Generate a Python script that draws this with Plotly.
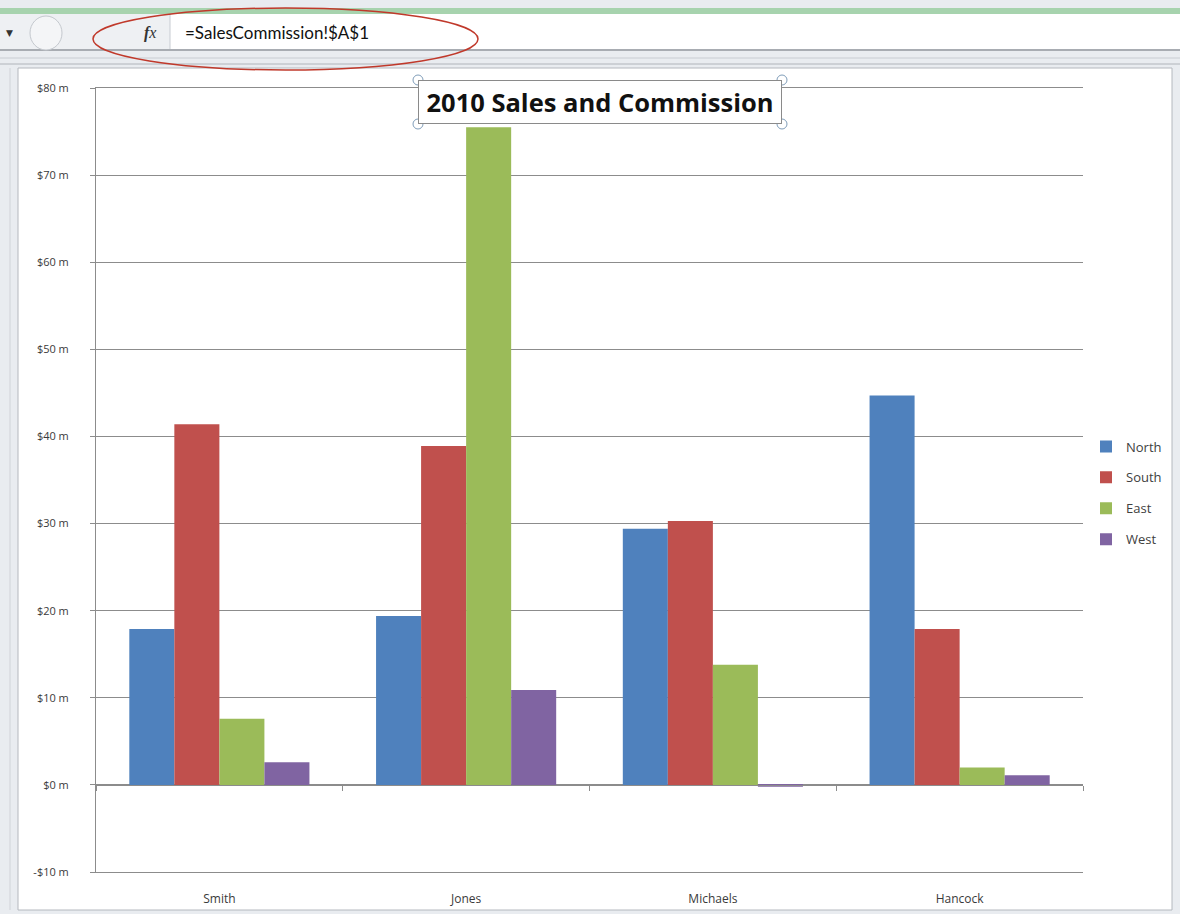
import plotly.graph_objects as go

# ---------------- data ----------------
salespeople = ["Smith", "Jones", "Michaels", "Hancock"]
north = [17.9, 19.4, 29.4, 44.7]
south = [41.4, 38.9, 30.3, 17.9]
east = [7.6, 75.5, 13.8, 2.0]
west = [2.6, 10.9, -0.2, 1.1]
regions = ["North", "South", "East", "West"]
region_colors = ["#4F81BD", "#C0504D", "#9BBB59", "#8064A2"]
y_tickvals = [-10, 0, 10, 20, 30, 40, 50, 60, 70, 80]
y_ticktext = ["-$10 m", "$0 m", "$10 m", "$20 m", "$30 m", "$40 m",
              "$50 m", "$60 m", "$70 m", "$80 m"]
title_text = "2010 Sales and Commission"
formula_text = "=SalesCommission!$A$1"
y_min, y_max = -10, 80

W, H = 1180, 914
L, R, T, B = 96, 97, 88, 42
PW, PH = W - L - R, H - T - B


def px(x):
    return (x - L) / PW


def py(y):
    return (H - B - y) / PH


fig = go.Figure()
series = [north, south, east, west]
for i, (name, vals) in enumerate(zip(regions, series)):
    fig.add_trace(go.Bar(
        x=salespeople, y=vals, name=name,
        marker=dict(color=region_colors[i], line=dict(width=0)),
        legendgroup=name,
    ))

# helper trace for the category-boundary tick axis at y = 0
fig.add_trace(go.Scatter(x=salespeople, y=[0] * len(salespeople), xaxis="x2",
                         mode="none", showlegend=False, hoverinfo="skip"))

grid = "#8C8C8C"
ytickfont = dict(family="Open Sans, DejaVu Sans", size=11, color="#3A3A3A")
xtickfont = dict(family="Open Sans, DejaVu Sans", size=12, color="#3A3A3A")

shapes = []
# ---- window chrome ----
shapes.append(dict(type="rect", xref="paper", yref="paper", x0=px(0), x1=px(W),
                   y0=py(H), y1=py(0), fillcolor="#E9ECF0", line=dict(width=0), layer="below"))
shapes.append(dict(type="rect", xref="paper", yref="paper", x0=px(0), x1=px(W),
                   y0=py(14), y1=py(8), fillcolor="#A7D3AE", line=dict(width=0), layer="below"))
shapes.append(dict(type="rect", xref="paper", yref="paper", x0=px(0), x1=px(W),
                   y0=py(49), y1=py(14), fillcolor="#FFFFFF", line=dict(width=0), layer="below"))
shapes.append(dict(type="rect", xref="paper", yref="paper", x0=px(0), x1=px(170),
                   y0=py(49), y1=py(14), fillcolor="#EEF0F3", line=dict(width=0), layer="below"))
shapes.append(dict(type="line", xref="paper", yref="paper", x0=px(170), x1=px(170),
                   y0=py(49), y1=py(14), line=dict(color="#C8CCD2", width=1)))
shapes.append(dict(type="line", xref="paper", yref="paper", x0=px(0), x1=px(W),
                   y0=py(50), y1=py(50), line=dict(color="#A8ACB2", width=2)))
shapes.append(dict(type="line", xref="paper", yref="paper", x0=px(0), x1=px(W),
                   y0=py(58), y1=py(58), line=dict(color="#C8CCD2", width=1)))
shapes.append(dict(type="line", xref="paper", yref="paper", x0=px(0), x1=px(W),
                   y0=py(64), y1=py(64), line=dict(color="#B0B4BA", width=1)))
shapes.append(dict(type="circle", xref="paper", yref="paper", x0=px(30), x1=px(62),
                   y0=py(50), y1=py(16), fillcolor="#F4F5F7", line=dict(color="#C4C8CE", width=1)))
# chart frame
shapes.append(dict(type="rect", xref="paper", yref="paper", x0=px(18), x1=px(1172),
                   y0=py(910), y1=py(68), fillcolor="#FFFFFF",
                   line=dict(color="#B4B8BE", width=1), layer="below"))
shapes.append(dict(type="line", xref="paper", yref="paper", x0=px(10), x1=px(10),
                   y0=py(910), y1=py(68), line=dict(color="#D0D3D8", width=1)))
# red ellipse around formula
shapes.append(dict(type="circle", xref="paper", yref="paper", x0=px(93), x1=px(478),
                   y0=py(70), y1=py(8), line=dict(color="#C0392B", width=1.5)))
# title handles
for hx, hy in [(418, 80), (782, 80), (418, 124), (782, 124)]:
    shapes.append(dict(type="circle", xref="paper", yref="paper",
                       x0=px(hx - 5), x1=px(hx + 5), y0=py(hy + 5), y1=py(hy - 5),
                       fillcolor="rgba(255,255,255,0.6)", line=dict(color="#7F9DB9", width=1)))

annotations = [
    dict(text="<b>" + title_text + "</b>", xref="paper", yref="paper",
         x=px(600), y=py(102), xanchor="center", yanchor="middle", showarrow=False,
         font=dict(family="Open Sans, Lato", size=25.5, color="#111111"),
         width=360, height=40, bgcolor="#FFFFFF", bordercolor="#8A8A8A", borderwidth=1),
    dict(text=formula_text, xref="paper", yref="paper", x=px(183), y=py(33),
         xanchor="left", yanchor="middle", showarrow=False,
         font=dict(family="Lato, Open Sans", size=17, color="#111111")),
    dict(text="<b><i>f</i></b><i>x</i>", xref="paper", yref="paper", x=px(150), y=py(33),
         xanchor="center", yanchor="middle", showarrow=False,
         font=dict(family="Liberation Serif, DejaVu Serif", size=16, color="#333333")),
    dict(text="▼", xref="paper", yref="paper", x=px(9), y=py(33),
         xanchor="center", yanchor="middle", showarrow=False,
         font=dict(family="DejaVu Sans", size=9, color="#333333")),
]

fig.update_layout(
    width=W, height=H,
    margin=dict(l=L, r=R, t=T, b=B, pad=0, autoexpand=False),
    paper_bgcolor="#FFFFFF", plot_bgcolor="rgba(0,0,0,0)",
    barmode="group", bargap=0.27, bargroupgap=0,
    showlegend=True,
    legend=dict(x=px(1086), y=py(493), xanchor="left", yanchor="middle",
                font=dict(family="Open Sans, DejaVu Sans", size=13, color="#404040"),
                tracegroupgap=11, itemwidth=30, bgcolor="rgba(0,0,0,0)"),
    xaxis=dict(type="category", categoryorder="array", categoryarray=salespeople,
               range=[-0.5, 3.5], showgrid=False, showline=True, mirror=True,
               linecolor=grid, linewidth=1, zeroline=False,
               ticks="", tickfont=xtickfont, ticklabelstandoff=16),
    xaxis2=dict(type="category", categoryorder="array", categoryarray=salespeople,
                overlaying="x", anchor="free", position=(0 - y_min) / (y_max - y_min),
                range=[-0.5, 3.5], showgrid=False, showline=True, linecolor=grid,
                linewidth=1, ticks="outside", tickson="boundaries", ticklen=5,
                tickcolor=grid, showticklabels=False, zeroline=False, side="bottom"),
    yaxis=dict(range=[y_min, y_max], tickvals=y_tickvals, ticktext=y_ticktext,
               showgrid=True, gridcolor=grid, gridwidth=1, zeroline=False,
               showline=True, linecolor=grid, linewidth=1,
               ticks="outside", ticklen=5, tickcolor=grid, tickfont=ytickfont,
               ticklabelstandoff=19),
    shapes=shapes, annotations=annotations,
    font=dict(family="Open Sans, DejaVu Sans"),
)

fig.write_html("out.html", config={"displayModeBar": False},
               post_script="document.body.style.margin='0';document.body.style.overflow='hidden';")
